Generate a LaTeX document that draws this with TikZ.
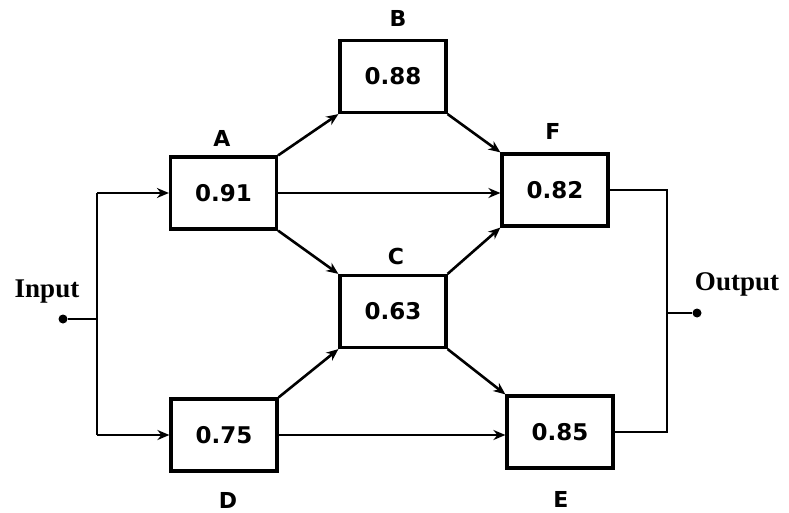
\documentclass[tikz,border=0pt]{standalone}
\usepackage{fontspec}
\setmainfont{Liberation Serif}
\newfontfamily\numfont{DejaVu Sans}
\usetikzlibrary{arrows.meta}
\tikzset{
  blk/.style={draw, line width=3.2pt, minimum width=106pt, minimum height=72pt, inner sep=0pt,
    font=\numfont\bfseries\fontsize{23}{26}\selectfont},
  lbl/.style={font=\numfont\bfseries\fontsize{22}{24}\selectfont, inner sep=0pt},
  io/.style={font=\bfseries\fontsize{27}{30}\selectfont, inner sep=0pt},
  conn/.style={line width=2.6pt, -{Stealth[length=12pt,width=10pt]}},
  wire/.style={line width=2.6pt},
  dot/.style={circle, fill=black, inner sep=0pt, minimum size=9pt}
}
\begin{document}
\begin{tikzpicture}[x=1pt,y=-1pt]
\useasboundingbox (0,0) rectangle (789,513);
% blocks
\node[blk] (A) at (223.5,193) {0.91};
\node[blk] (B) at (393,76.5) {0.88};
\node[blk] (F) at (555,190) {0.82};
\node[blk] (C) at (393,311.5) {0.63};
\node[blk] (D) at (224,435) {0.75};
\node[blk] (E) at (560,432) {0.85};
% labels
\node[lbl] (lA) at (222,138) {A};
\node[lbl] (lB) at (398,18) {B};
\node[lbl] (lF) at (553,131) {F};
\node[lbl] (lC) at (396,256) {C};
\node[lbl] (lD) at (228,500) {D};
\node[lbl] (lE) at (561,499) {E};
\node[io] (lin) at (47,292) {Input};
\node[io] (lout) at (737,284) {Output};
% input side
\node[dot] (in) at (63,319) {};
\coordinate (ij) at (97,319);
\coordinate (it) at (97,193);
\coordinate (ib) at (97,435);
\draw[wire] (in) -- (ij);
\draw[wire] (it) -- (ib);
\draw[conn] (it) -- (A.west);
\draw[conn] (ib) -- (D.west);
% internal connectors
\draw[conn] (A.north east) -- (B.south west);
\draw[conn] (A.east) -- (A.east -| F.west);
\draw[conn] (A.south east) -- (C.north west);
\draw[conn] (B.south east) -- (F.north west);
\draw[conn] (C.north east) -- (F.south west);
\draw[conn] (D.north east) -- (C.south west);
\draw[conn] (D.east) -- (D.east -| E.west);
\draw[conn] (C.south east) -- (E.north west);
% output side
\coordinate (ot) at (667,190);
\coordinate (ob) at (667,432);
\coordinate (oj) at (667,313);
\node[dot] (out) at (697,313) {};
\draw[wire] (F.east) -- (ot) -- (ob) -- (E.east);
\draw[wire] (oj) -- (out);
\end{tikzpicture}
\end{document}
